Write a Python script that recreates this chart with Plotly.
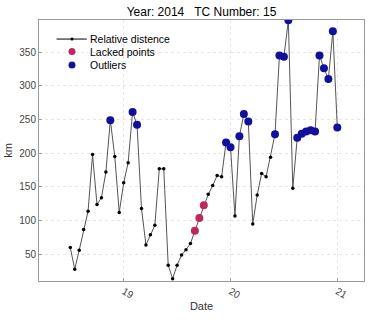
import plotly.graph_objects as go

# hourly samples from day 18 12:00 to day 21 00:00
start_day = 18.5
hours = list(range(61))
distance = [60, 28, 56, 87, 114, 198, 124, 134, 172, 249, 195, 112, 156, 186, 261, 242,
            118, 64, 79, 93, 177, 177, 34, 14, 34, 49, 57, 66, 85, 104, 123, 139,
            152, 167, 165, 216, 209, 107, 225, 258, 247, 95, 138, 170, 165, 194, 228,
            345, 343, 397, 148, 223, 229, 232, 234, 232, 345, 326, 310, 381, 238]
lacked_idx = [28, 29, 30]
outlier_idx = [9, 14, 15, 35, 36, 38, 39, 40, 46, 47, 48, 49, 51, 52, 53, 54, 55,
               56, 57, 58, 59, 60]
x_ticks = [19, 20, 21]
y_ticks = [50, 100, 150, 200, 250, 300, 350]
legend_labels = ["Relative distence", "Lacked points", "Outliers"]

LINE_C = "#555555"
PINK = "#c0285c"
BLUE = "#10109c"
FONT = "Liberation Sans, Arial"

x = [start_day + h / 24 for h in hours]

fig = go.Figure()
fig.add_trace(go.Scatter(
    x=x, y=distance, mode="lines+markers", name=legend_labels[0],
    line=dict(color=LINE_C, width=1),
    marker=dict(color="black", size=3.5),
))
fig.add_trace(go.Scatter(
    x=[x[i] for i in lacked_idx], y=[distance[i] for i in lacked_idx],
    mode="markers", name=legend_labels[1],
    marker=dict(color=PINK, size=8),
))
fig.add_trace(go.Scatter(
    x=[x[i] for i in outlier_idx], y=[distance[i] for i in outlier_idx],
    mode="markers", name=legend_labels[2],
    marker=dict(color=BLUE, size=8),
))

axis_common = dict(
    showline=True, linecolor="#9a9a9a", linewidth=1, mirror=True,
    ticks="inside", ticklen=3, tickcolor="#9a9a9a",
    showgrid=True, gridcolor="#e6e6e6", griddash="dot", gridwidth=1,
    zeroline=False, automargin=False,
    tickfont=dict(family=FONT, size=10, color="#444444"),
)

# compact legend (drawn in plot-area paper coordinates)
leg_y = [0.927, 0.879, 0.828]
leg_sym_x = 0.1015
leg_text_x = 0.152
shapes = [
    dict(type="line", xref="paper", yref="paper", x0=0.054, x1=0.147, y0=leg_y[0], y1=leg_y[0],
         line=dict(color="black", width=1)),
    dict(type="circle", xref="paper", yref="paper", xsizemode="pixel", ysizemode="pixel",
         xanchor=leg_sym_x, yanchor=leg_y[0], x0=-1.5, x1=1.5, y0=-1.5, y1=1.5,
         fillcolor="black", line=dict(width=0)),
    dict(type="circle", xref="paper", yref="paper", xsizemode="pixel", ysizemode="pixel",
         xanchor=leg_sym_x, yanchor=leg_y[1], x0=-3.5, x1=3.5, y0=-3.5, y1=3.5,
         fillcolor=PINK, line=dict(width=0)),
    dict(type="circle", xref="paper", yref="paper", xsizemode="pixel", ysizemode="pixel",
         xanchor=leg_sym_x, yanchor=leg_y[2], x0=-3.5, x1=3.5, y0=-3.5, y1=3.5,
         fillcolor=BLUE, line=dict(width=0)),
]
annotations = [
    dict(text=lab, xref="paper", yref="paper", x=leg_text_x, y=yy, xanchor="left", yanchor="middle",
         showarrow=False, font=dict(family=FONT, size=10.5, color="black"))
    for lab, yy in zip(legend_labels, leg_y)
]

fig.update_layout(
    width=371, height=322,
    margin=dict(l=39, r=7, t=20, b=41),
    paper_bgcolor="white", plot_bgcolor="white",
    title=dict(text="Year: 2014&nbsp;&nbsp;&nbsp;TC Number: 15", x=0.5, xref="paper", xanchor="center",
               y=0.963, yanchor="middle",
               font=dict(family=FONT, size=12, color="black")),
    xaxis=dict(axis_common, range=[18.207, 21.25], tickvals=x_ticks,
               ticktext=[str(t) for t in x_ticks], tickangle=30,
               title=dict(text="Date", standoff=2,
                          font=dict(family=FONT, size=11, color="#333333"))),
    yaxis=dict(axis_common, range=[10.5, 397.5], tickvals=y_ticks,
               title=dict(text="km", standoff=4,
                          font=dict(family=FONT, size=11, color="#333333"))),
    showlegend=False,
    hovermode=False,
    shapes=shapes,
    annotations=annotations,
)

fig.write_html("out.html",
               config={"displayModeBar": False, "staticPlot": True},
               post_script="document.body.style.margin='0';document.body.style.overflow='hidden';")
